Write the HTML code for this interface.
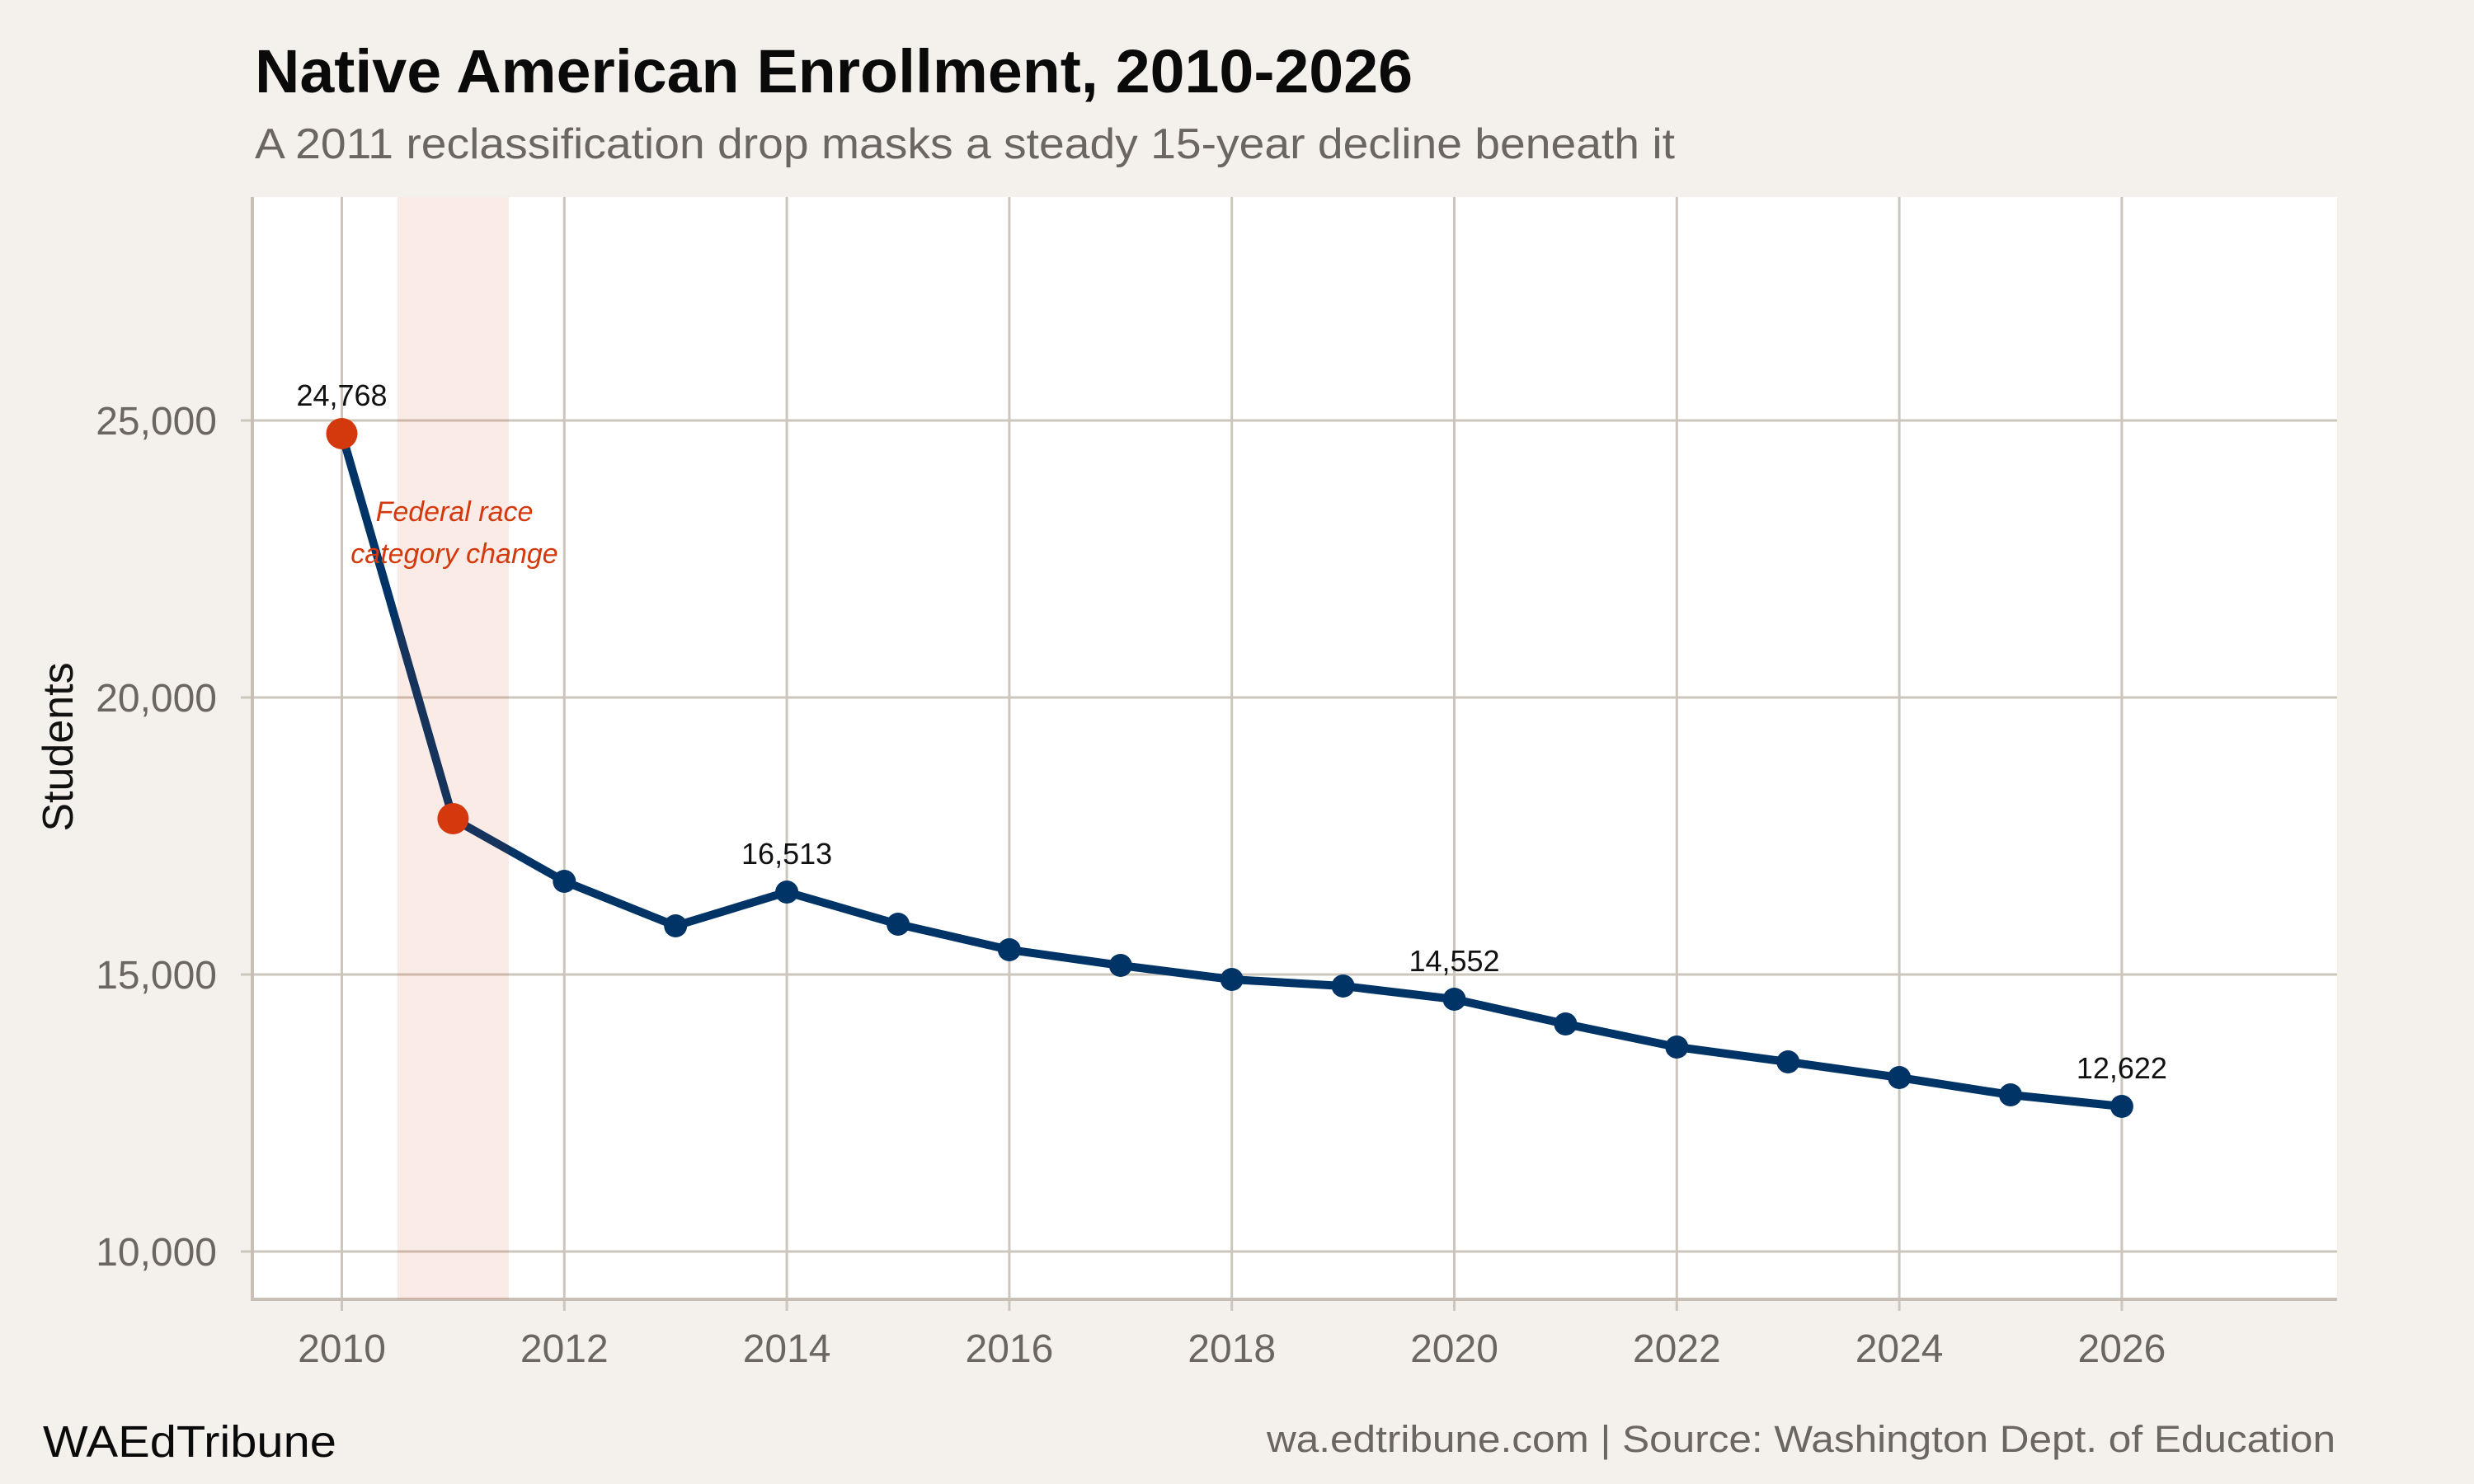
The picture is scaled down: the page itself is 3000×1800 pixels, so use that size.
<!DOCTYPE html>
<html><head><meta charset="utf-8"><style>html,body{margin:0;padding:0;background:#f4f1ec}svg{display:block}</style></head>
<body>
<svg width="3000" height="1800" viewBox="0 0 3000 1800" xmlns="http://www.w3.org/2000/svg" font-family="Liberation Sans, sans-serif">
<rect width="3000" height="1800" fill="#f4f1ec"/>
<text x="309" y="112" font-size="74" font-weight="bold" fill="#0a0a0a" textLength="1404" lengthAdjust="spacingAndGlyphs">Native American Enrollment, 2010-2026</text>
<text x="309" y="192" font-size="52" fill="#6b6661" textLength="1722" lengthAdjust="spacingAndGlyphs">A 2011 reclassification drop masks a steady 15-year decline beneath it</text>
<rect x="306" y="239" width="2528" height="1337" fill="#ffffff"/>
<g stroke="#cdc6bd" stroke-width="3">
<line x1="292" y1="510" x2="2834" y2="510"/>
<line x1="292" y1="846" x2="2834" y2="846"/>
<line x1="292" y1="1182" x2="2834" y2="1182"/>
<line x1="292" y1="1518" x2="2834" y2="1518"/>
<line x1="414.5" y1="239" x2="414.5" y2="1590"/>
<line x1="684.3" y1="239" x2="684.3" y2="1590"/>
<line x1="954.1" y1="239" x2="954.1" y2="1590"/>
<line x1="1223.9" y1="239" x2="1223.9" y2="1590"/>
<line x1="1493.7" y1="239" x2="1493.7" y2="1590"/>
<line x1="1763.5" y1="239" x2="1763.5" y2="1590"/>
<line x1="2033.3" y1="239" x2="2033.3" y2="1590"/>
<line x1="2303.1" y1="239" x2="2303.1" y2="1590"/>
<line x1="2572.9" y1="239" x2="2572.9" y2="1590"/>
</g>
<line x1="306" y1="239" x2="306" y2="1578" stroke="#c8c0b6" stroke-width="4"/>
<line x1="304" y1="1576" x2="2834" y2="1576" stroke="#c8c0b6" stroke-width="4"/>
<g font-size="48" fill="#6b6661" text-anchor="end">
<text x="263" y="527">25,000</text>
<text x="263" y="863">20,000</text>
<text x="263" y="1199">15,000</text>
<text x="263" y="1535">10,000</text>
</g>
<g font-size="48" fill="#6b6661" text-anchor="middle">
<text x="414.5" y="1652">2010</text>
<text x="684.3" y="1652">2012</text>
<text x="954.1" y="1652">2014</text>
<text x="1223.9" y="1652">2016</text>
<text x="1493.7" y="1652">2018</text>
<text x="1763.5" y="1652">2020</text>
<text x="2033.3" y="1652">2022</text>
<text x="2303.1" y="1652">2024</text>
<text x="2572.9" y="1652">2026</text>
</g>
<text transform="translate(88,906) rotate(-90)" font-size="52" fill="#111" text-anchor="middle">Students</text>
<polyline fill="none" stroke="#003366" stroke-width="10" stroke-linejoin="round" points="414.5,526 549.4,993 684.3,1069 819.2,1123 954.1,1082 1089,1121 1223.9,1152 1358.8,1171 1493.7,1188 1628.6,1196 1763.5,1212 1898.4,1242 2033.3,1270 2168.2,1288 2303.1,1307 2438,1328 2572.9,1342"/>
<g fill="#003366">
<circle cx="684.3" cy="1069" r="14"/><circle cx="819.2" cy="1123" r="14"/><circle cx="954.1" cy="1082" r="14"/><circle cx="1089" cy="1121" r="14"/><circle cx="1223.9" cy="1152" r="14"/><circle cx="1358.8" cy="1171" r="14"/><circle cx="1493.7" cy="1188" r="14"/><circle cx="1628.6" cy="1196" r="14"/><circle cx="1763.5" cy="1212" r="14"/><circle cx="1898.4" cy="1242" r="14"/><circle cx="2033.3" cy="1270" r="14"/><circle cx="2168.2" cy="1288" r="14"/><circle cx="2303.1" cy="1307" r="14"/><circle cx="2438" cy="1328" r="14"/><circle cx="2572.9" cy="1342" r="14"/>
</g>
<circle cx="414.5" cy="526" r="19" fill="#d4380d"/>
<circle cx="549.4" cy="993" r="19" fill="#d4380d"/>
<rect x="482" y="239" width="135" height="1337" fill="#d4380d" fill-opacity="0.1"/>
<g font-size="34" font-style="italic" fill="#d4380d" text-anchor="middle">
<text x="551" y="632">Federal race</text>
<text x="551" y="683">category change</text>
</g>
<g font-size="36" fill="#111" text-anchor="middle">
<text x="414.5" y="492">24,768</text>
<text x="954.1" y="1048">16,513</text>
<text x="1763.5" y="1178">14,552</text>
<text x="2572.9" y="1308">12,622</text>
</g>
<text x="52" y="1767" font-size="54" fill="#0a0a0a" textLength="356" lengthAdjust="spacingAndGlyphs">WAEdTribune</text>
<text x="2832" y="1761" font-size="45" fill="#6b6661" text-anchor="end" textLength="1296" lengthAdjust="spacingAndGlyphs">wa.edtribune.com | Source: Washington Dept. of Education</text>
</svg>
</body></html>
